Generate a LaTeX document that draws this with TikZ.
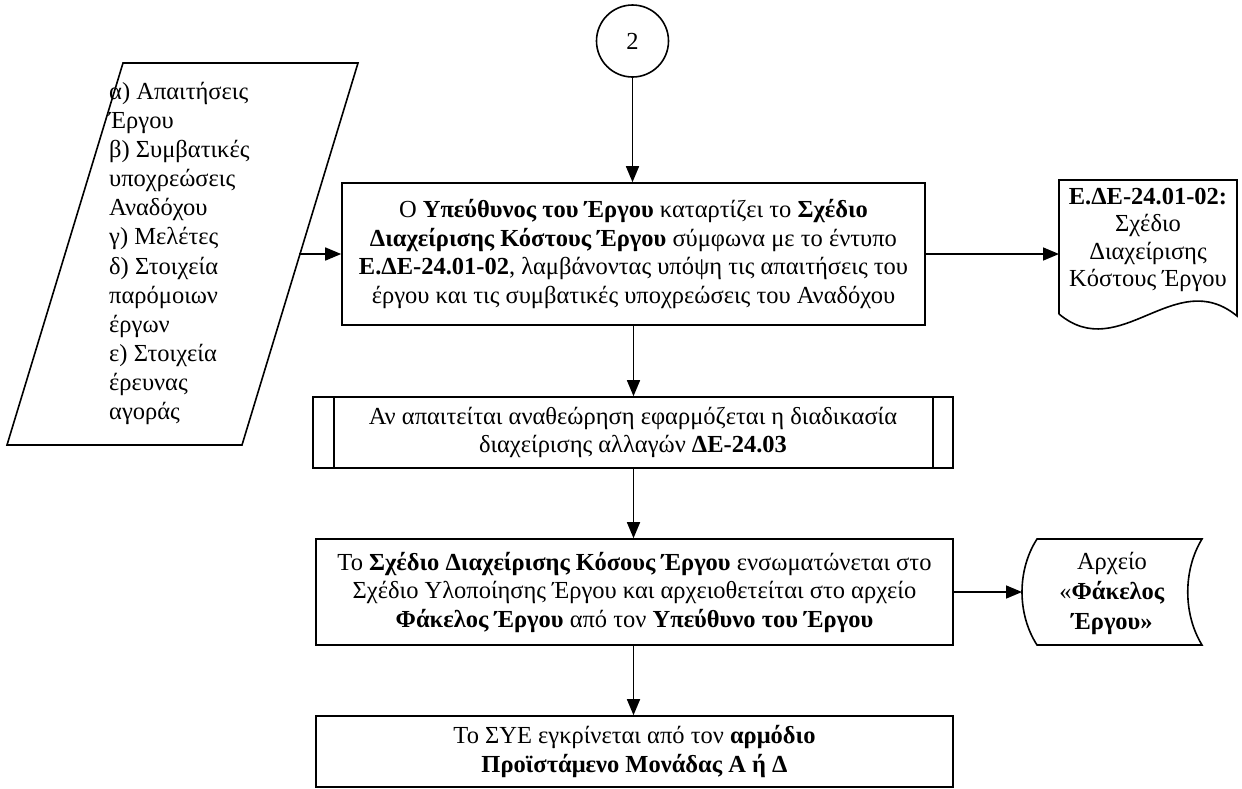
\documentclass[tikz,border=0pt]{standalone}
\usepackage{fontspec}
\setmainfont{Liberation Serif}
\usetikzlibrary{arrows.meta,calc}
\begin{document}
\begin{tikzpicture}[x=1pt,y=-1pt,
  every node/.style={font=\fontsize{24.5}{28.5}\selectfont},
  line/.style={line width=1.6pt},
  arr/.style={line width=1.6pt,-{Triangle[length=16pt,width=13pt]}},
  procbox/.style={draw,line width=1.6pt,rectangle,align=center,inner sep=0pt},
  plain/.style={align=center,inner sep=0pt}]
\useasboundingbox (0,0) rectangle (1242,788);

% connector circle
\node[draw,line width=1.6pt,circle,minimum size=72pt,inner sep=0pt] (c2) at (632.5,41) {2};

% main process step
\node[procbox,minimum width=583pt,minimum height=142pt] (main) at (633.5,254)
 {Ο \textbf{Υπεύθυνος του Έργου} καταρτίζει το \textbf{Σχέδιο}\\
  \textbf{Διαχείρισης Κόστους Έργου} σύμφωνα με το έντυπο\\
  \textbf{Ε.ΔΕ-24.01-02}, λαμβάνοντας υπόψη τις απαιτήσεις του\\
  έργου και τις συμβατικές υποχρεώσεις του Αναδόχου};

% predefined process (subprocess)
\node[procbox,minimum width=640pt,minimum height=71pt] (sub) at (633,432.5)
 {Αν απαιτείται αναθεώρηση εφαρμόζεται η διαδικασία\\
  διαχείρισης αλλαγών \textbf{ΔΕ-24.03}};
\draw[line] ([xshift=22pt]sub.north west) -- ([xshift=22pt]sub.south west);
\draw[line] ([xshift=-21pt]sub.north east) -- ([xshift=-21pt]sub.south east);

% archiving step
\node[procbox,minimum width=637pt,minimum height=106pt] (arch) at (634.5,592)
 {Το \textbf{Σχέδιο Διαχείρισης Κόσους Έργου} ενσωματώνεται στο\\
  Σχέδιο Υλοποίησης Έργου και αρχειοθετείται στο αρχείο\\
  \textbf{Φάκελος Έργου} από τον \textbf{Υπεύθυνο του Έργου}};

% approval step
\node[procbox,minimum width=637pt,minimum height=71pt] (appr) at (634.5,751.5)
 {Το ΣΥΕ εγκρίνεται από τον \textbf{αρμόδιο}\\
  \textbf{Προϊστάμενο Μονάδας Α ή Δ}};

% input data (parallelogram)
\draw[line] (123,63) -- (358,63) -- (242,445) -- (7,445) -- cycle;
\node[anchor=north west,align=left,inner sep=0pt,
      font=\fontsize{24.5}{29.1}\selectfont] (inp) at (109,82)
 {α) Απαιτήσεις\\ Έργου\\ β) Συμβατικές\\ υποχρεώσεις\\ Αναδόχου\\
  γ) Μελέτες\\ δ) Στοιχεία\\ παρόμοιων\\ έργων\\ ε) Στοιχεία\\
  έρευνας\\ αγοράς};
\coordinate (inR) at (299,254);

% output document
\node[plain,minimum width=178pt,font=\fontsize{24.5}{27.5}\selectfont] (doc) at (1148,240)
 {\textbf{Ε.ΔΕ-24.01-02:}\\ Σχέδιο\\ Διαχείρισης\\ Κόστους Έργου};
\draw[line] (1059,314) -- (1059,180) -- (1237,180) -- (1237,316)
  .. controls (1175,265) and (1120,365) .. (1059,314);

% stored data
\node[plain,minimum width=180pt,minimum height=106pt,font=\fontsize{24.5}{30}\selectfont] (file) at (1112,593)
 {Αρχείο\\ «\textbf{Φάκελος}\\ \textbf{Έργου»}};
\draw[line] (1037,539) -- (1202,539)
  .. controls (1183,570) and (1183,614) .. (1202,645)
  -- (1037,645)
  .. controls (1017,614) and (1017,570) .. (1037,539) -- cycle;

% connectors
\draw[arr] (c2.south) -- (c2.south |- main.north);
\draw[arr] (main.south) -- (sub.north -| main.south);
\draw[arr] (sub.south -| main.south) -- (arch.north -| main.south);
\draw[arr] (arch.south -| main.south) -- (appr.north -| main.south);
\draw[arr] (inR) -- (inR -| main.west);
\draw[arr] (main.east) -- (main.east -| 1059,0);
\draw[arr] (arch.east) -- (arch.east -| 1022,0);
\end{tikzpicture}
\end{document}
